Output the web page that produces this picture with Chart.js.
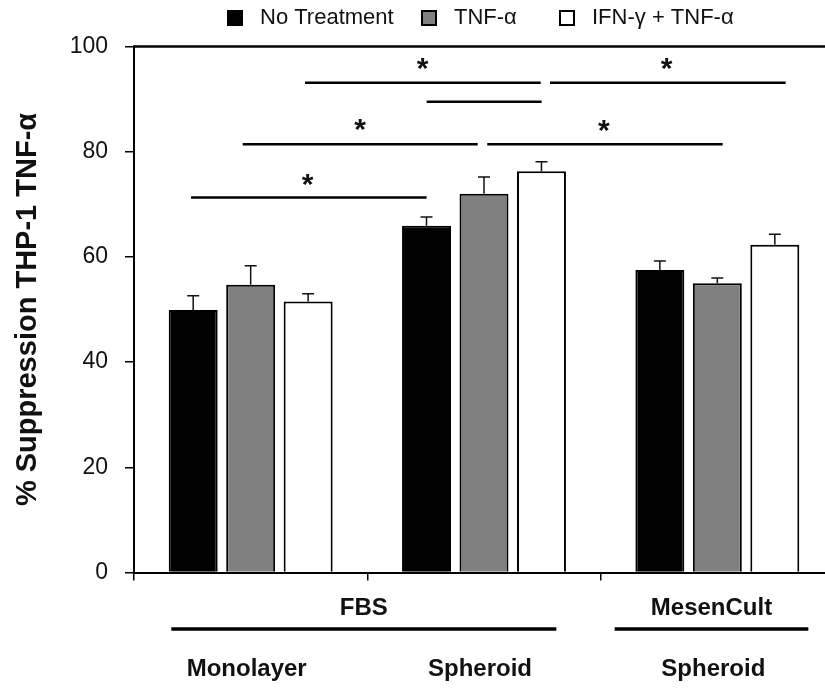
<!DOCTYPE html>
<html lang="en">
<head>
<meta charset="UTF-8">
<title>THP-1 TNF-α suppression</title>
<script src="https://cdn.jsdelivr.net/npm/chart.js"></script>
<style>
  html, body { margin: 0; padding: 0; background: #fff; overflow: hidden; }
  #wrap { width: 850px; height: 688px; }
</style>
</head>
<body>
<div id="wrap">
  <canvas id="chart1" width="850" height="688"></canvas>
</div>
<script>
// bottom row labels (one per category) and the media groups above them
var categories = ['Monolayer', 'Spheroid', 'Spheroid'];
var groupNames = ['FBS', 'MesenCult'];
var groupFrom = [-0.34, 1.56];   // category units
var groupTo = [1.31, 2.39];

// series
var seriesNames = ['No Treatment', 'TNF-α', 'IFN-γ + TNF-α'];
var noTreatment = [49.9, 65.9, 57.5];
var tnf = [54.7, 72.0, 55.0];
var ifnTnf = [51.5, 76.3, 62.3];
var noTreatmentErr = [2.7, 1.7, 1.7];
var tnfErr = [3.6, 3.2, 1.0];
var ifnTnfErr = [1.5, 1.8, 2.0];

var yTicks = [0, 20, 40, 60, 80, 100];

// significance brackets: y in data units, x in category units
var sigY = [93.1, 93.1, 89.5, 81.4, 81.4, 71.3];
var sigFrom = [0.233, 1.283, 0.754, -0.034, 1.014, -0.256];
var sigTo = [1.243, 2.293, 1.247, 0.973, 2.023, 0.754];
var starX = [0.737, 1.783, 0.469, 1.514, 0.244];
var starY = [96.7, 96.7, 85.1, 84.9, 74.6];

var FONT = '"Liberation Sans", Arial, sans-serif';
Chart.defaults.font.family = FONT;

var extras = {
  id: 'extras',
  afterDatasetsDraw: function(chart) {
    // one sided error bars
    var ctx = chart.ctx;
    var y = chart.scales.y;
    ctx.save();
    ctx.strokeStyle = '#111';
    ctx.lineWidth = 1.5;
    chart.data.datasets.forEach(function(ds, i) {
      var meta = chart.getDatasetMeta(i);
      meta.data.forEach(function(bar, j) {
        var top = y.getPixelForValue(ds.data[j] + ds.errors[j]);
        ctx.beginPath();
        ctx.moveTo(bar.x, bar.y);
        ctx.lineTo(bar.x, top);
        ctx.moveTo(bar.x - 6, top);
        ctx.lineTo(bar.x + 6, top);
        ctx.stroke();
      });
    });
    ctx.restore();
  },
  afterDraw: function(chart) {
    var ctx = chart.ctx;
    var x = chart.scales.x, y = chart.scales.y;
    var area = chart.chartArea;
    ctx.save();
    ctx.strokeStyle = '#000';
    ctx.fillStyle = '#111';

    // top frame line
    ctx.lineWidth = 2.5;
    ctx.beginPath();
    ctx.moveTo(area.left - 1, area.top);
    ctx.lineTo(area.right, area.top);
    ctx.stroke();

    // significance lines
    for (var i = 0; i < sigY.length; i++) {
      var py = y.getPixelForValue(sigY[i]);
      ctx.beginPath();
      ctx.moveTo(x.getPixelForValue(sigFrom[i]), py);
      ctx.lineTo(x.getPixelForValue(sigTo[i]), py);
      ctx.stroke();
    }

    // stars
    ctx.font = 'bold 30px ' + FONT;
    ctx.textAlign = 'center';
    ctx.textBaseline = 'alphabetic';
    var m = ctx.measureText('*');
    var mid = (m.actualBoundingBoxAscent - m.actualBoundingBoxDescent) / 2;
    for (var s = 0; s < starX.length; s++) {
      ctx.fillText('*', x.getPixelForValue(starX[s]), y.getPixelForValue(starY[s]) + mid);
    }

    // media groups under the axis
    ctx.font = 'bold 24px ' + FONT;
    ctx.lineWidth = 3.5;
    for (var g = 0; g < groupNames.length; g++) {
      var gx = x.getPixelForValue((groupFrom[g] + groupTo[g]) / 2);
      ctx.fillText(groupNames[g], gx, area.bottom + 42.5);
      ctx.beginPath();
      ctx.moveTo(x.getPixelForValue(groupFrom[g]), area.bottom + 56.5);
      ctx.lineTo(x.getPixelForValue(groupTo[g]), area.bottom + 56.5);
      ctx.stroke();
    }

    // legend
    var lx = [227, 421, 559];
    ctx.font = '22px ' + FONT;
    ctx.textAlign = 'left';
    ctx.textBaseline = 'middle';
    ctx.lineWidth = 2;
    chart.data.datasets.forEach(function(ds, k) {
      ctx.fillStyle = ds.backgroundColor;
      ctx.fillRect(lx[k], 10, 16, 16);
      ctx.strokeRect(lx[k] + 1, 11, 14, 14);
      ctx.fillStyle = '#111';
      ctx.fillText(ds.label, lx[k] + 33, 18);
    });
    ctx.restore();
  }
};

new Chart(document.getElementById('chart1'), {
  type: 'bar',
  data: {
    labels: categories,
    datasets: [
      { label: seriesNames[0], data: noTreatment, errors: noTreatmentErr, backgroundColor: '#000000', borderColor: '#000', borderWidth: 2 },
      { label: seriesNames[1], data: tnf, errors: tnfErr, backgroundColor: '#808080', borderColor: '#000', borderWidth: 2 },
      { label: seriesNames[2], data: ifnTnf, errors: ifnTnfErr, backgroundColor: '#ffffff', borderColor: '#000', borderWidth: 2 }
    ]
  },
  options: {
    responsive: false,
    animation: false,
    layout: { padding: { top: 46.5, right: 16, bottom: 0, left: 0 } },
    datasets: { bar: { categoryPercentage: 0.739, barPercentage: 0.852 } },
    plugins: {
      legend: { display: false },
      tooltip: { enabled: false }
    },
    scales: {
      x: {
        grid: { offset: true, drawOnChartArea: false, tickLength: 8, color: '#000', lineWidth: 1.5 },
        border: { color: '#000', width: 2 },
        ticks: { color: '#111', font: { size: 24, weight: 'bold' }, padding: 74, labelOffset: -4, maxRotation: 0, autoSkip: false },
        afterFit: function(s) { s.height = 115.5; }
      },
      y: {
        min: yTicks[0],
        max: yTicks[yTicks.length - 1],
        grid: { drawOnChartArea: false, tickLength: 9, color: '#000', lineWidth: 1.5 },
        border: { color: '#000', width: 2 },
        ticks: { stepSize: yTicks[1] - yTicks[0], color: '#111', font: { size: 23 }, padding: 17 },
        title: {
          display: true,
          text: '% Suppression THP-1 TNF-α',
          color: '#111',
          font: { size: 29, weight: 'bold' },
          padding: { top: 11, bottom: 0 }
        },
        afterFit: function(s) { s.width = 134; }
      }
    }
  },
  plugins: [extras]
});
</script>
</body>
</html>
